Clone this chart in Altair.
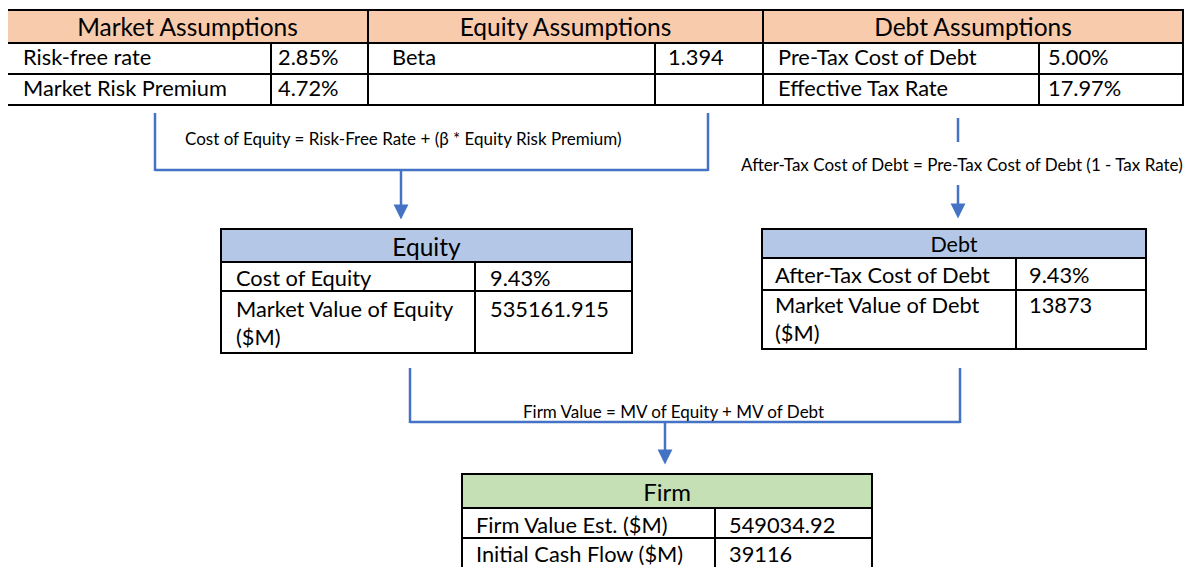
import altair as alt
import pandas as pd

# ---------------- content ----------------
top_headers = ["Market Assumptions", "Equity Assumptions", "Debt Assumptions"]
market_labels = ["Risk-free rate", "Market Risk Premium"]
market_values = ["2.85%", "4.72%"]
equity_labels = ["Beta", ""]
equity_values = ["1.394", ""]
debt_labels = ["Pre-Tax Cost of Debt", "Effective Tax Rate"]
debt_values = ["5.00%", "17.97%"]

eq_header = "Equity"
eq_labels = ["Cost of Equity", "Market Value of Equity", "($M)"]
eq_values = ["9.43%", "535161.915"]

dt_header = "Debt"
dt_labels = ["After-Tax Cost of Debt", "Market Value of Debt", "($M)"]
dt_values = ["9.43%", "13873"]

firm_header = "Firm"
firm_labels = ["Firm Value Est. ($M)", "Initial Cash Flow ($M)"]
firm_values = ["549034.92", "39116"]

formulas = [
    "Cost of Equity = Risk-Free Rate + (β * Equity Risk Premium)",
    "After-Tax Cost of Debt = Pre-Tax Cost of Debt (1 - Tax Rate)",
    "Firm Value = MV of Equity + MV of Debt",
]

# ---------------- layout (screen pixels) ----------------
PEACH = "#F8CBAD"
BLUE_H = "#B4C7E7"
GREEN = "#C5E0B4"
LINK = "#4472C4"
FONT = "Lato"
ROW = 21.8
FORM = 17

cells = []
def cell(x, x2, y, y2, fill):
    cells.append(dict(x=x, x2=x2, y=y, y2=y2, fill=fill))

texts_left = []
texts_center = []
def tl(x, y, t, s):
    texts_left.append(dict(x=x, y=y, t=t, s=s))
def tc(x, y, t, s):
    texts_center.append(dict(x=x, y=y, t=t, s=s))

# top table
sections = [(7, 271, 368), (368, 655, 763), (763, 1039, 1183)]
label_x = [23, 392, 778]
value_x = [278, 668, 1048]
top_rows = [(43, 74), (74, 105)]
labels_by_sec = [market_labels, equity_labels, debt_labels]
values_by_sec = [market_values, equity_values, debt_values]
for i, (a, d, b) in enumerate(sections):
    cell(a, b, 10, 43, PEACH)
    tc((a + b) / 2, 36, top_headers[i], 24.5)
    for r, (ya, yb) in enumerate(top_rows):
        cell(a, d, ya, yb, "white")
        cell(d, b, ya, yb, "white")
        tl(label_x[i], yb - 9, labels_by_sec[i][r], ROW)
        tl(value_x[i], yb - 9, values_by_sec[i][r], ROW)

# equity table
cell(221, 632, 229, 262, BLUE_H)
tc(426.5, 256, eq_header, 24.5)
cell(221, 475, 262, 291, "white"); cell(475, 632, 262, 291, "white")
cell(221, 475, 291, 353, "white"); cell(475, 632, 291, 353, "white")
tl(236, 286, eq_labels[0], ROW); tl(490, 286, eq_values[0], ROW)
tl(236, 317, eq_labels[1], ROW); tl(490, 317, eq_values[1], ROW)
tl(236, 345, eq_labels[2], ROW)

# debt table
cell(762, 1146, 229, 258, BLUE_H)
tc(954, 252, dt_header, 21.5)
cell(762, 1016, 258, 290, "white"); cell(1016, 1146, 258, 290, "white")
cell(762, 1016, 290, 349, "white"); cell(1016, 1146, 290, 349, "white")
tl(775, 283, dt_labels[0], ROW); tl(1029, 283, dt_values[0], ROW)
tl(775, 313, dt_labels[1], ROW); tl(1029, 313, dt_values[1], ROW)
tl(775, 341, dt_labels[2], ROW)

# firm table
cell(462, 872, 474, 508, GREEN)
tc(667, 501, firm_header, 24)
cell(462, 715, 508, 538, "white"); cell(715, 872, 508, 538, "white")
cell(462, 715, 538, 568, "white"); cell(715, 872, 538, 568, "white")
tl(476, 533, firm_labels[0], ROW); tl(729, 533, firm_values[0], ROW)
tl(476, 562, firm_labels[1], ROW); tl(729, 562, firm_values[1], ROW)

# formulas
tl(185, 145, formulas[0], FORM)
tl(741, 171, formulas[1], FORM)
tl(523, 418, formulas[2], FORM)

# connectors
links = [
    dict(x=155, y=113, x2=155, y2=171),
    dict(x=708, y=113, x2=708, y2=171),
    dict(x=155, y=170, x2=708, y2=170),
    dict(x=401, y=170, x2=401, y2=207),
    dict(x=958, y=118, x2=958, y2=142),
    dict(x=958, y=185, x2=958, y2=206),
    dict(x=410, y=368, x2=410, y2=423),
    dict(x=960, y=368, x2=960, y2=423),
    dict(x=410, y=422, x2=960, y2=422),
    dict(x=665, y=422, x2=665, y2=452),
]
arrows = [dict(x=401, y=212), dict(x=958, y=211), dict(x=665, y=457)]

W, H = 1180, 559
xs = alt.Scale(domain=[8, 8 + W], nice=False, zero=False)
ys = alt.Scale(domain=[8 + H, 8], nice=False, zero=False)
X = lambda f: alt.X(f, type="quantitative", scale=xs, axis=None)
Y = lambda f: alt.Y(f, type="quantitative", scale=ys, axis=None)

cells_df = pd.DataFrame(cells)
rects = alt.Chart(cells_df).mark_rect(stroke="black", strokeWidth=2).encode(
    x=X("x"), x2="x2", y=Y("y"), y2="y2",
    fill=alt.Fill("fill:N", scale=None),
)

lines = alt.Chart(pd.DataFrame(links)).mark_rule(color=LINK, strokeWidth=2.5).encode(
    x=X("x"), x2="x2", y=Y("y"), y2="y2"
)

heads = alt.Chart(pd.DataFrame(arrows)).mark_point(
    shape="M-1,-1L1,-1L0,1Z", filled=True, color=LINK, opacity=1, size=220
).encode(x=X("x"), y=Y("y"))

tleft = alt.Chart(pd.DataFrame(texts_left)).mark_text(
    align="left", baseline="alphabetic", font=FONT, color="black"
).encode(x=X("x"), y=Y("y"), text="t:N", size=alt.Size("s:Q", scale=None))

tcent = alt.Chart(pd.DataFrame(texts_center)).mark_text(
    align="center", baseline="alphabetic", font=FONT, color="black"
).encode(x=X("x"), y=Y("y"), text="t:N", size=alt.Size("s:Q", scale=None))

chart = alt.layer(rects, lines, heads, tleft, tcent).properties(
    width=W, height=H, padding=0,
    autosize=alt.AutoSizeParams(type="none"),
).configure_view(stroke=None)

chart.save("out.html", embed_options={"renderer": "svg", "actions": False})
